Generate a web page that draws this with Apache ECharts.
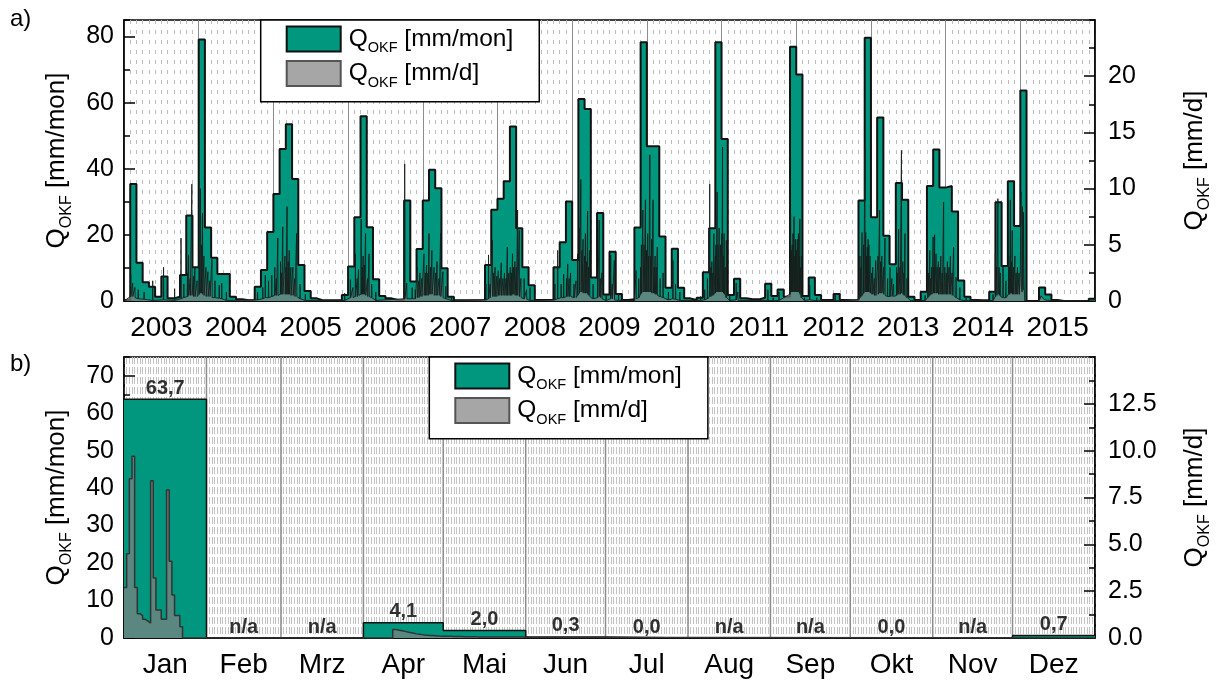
<!DOCTYPE html>
<html><head><meta charset="utf-8">
<script src="https://cdn.jsdelivr.net/npm/echarts@6/dist/echarts.min.js"></script>
<style>html,body{margin:0;padding:0;background:#fff}#c{width:1221px;height:682px}</style>
</head><body><div id="c"></div>
<script>
// ---------- DATA ----------
const years = ['2003','2004','2005','2006','2007','2008','2009','2010','2011','2012','2013','2014','2015'];
// monthly runoff [mm/mon], Jan ... Dec
const monthly2003 = [0.3, 35.4, 11.6, 5.7, 4.3, 1.3, 7.4, 0.8, 1.3, 7.9, 25.9, 10.2];
const monthly2004 = [79.1, 22.2, 13.1, 8.2, 8.2, 1.3, 0.5, 0.2, 0.2, 4.3, 9.4, 20.9];
const monthly2005 = [32.4, 46.0, 53.5, 36.9, 10.9, 3.0, 0.8, 0.2, 0.2, 0.2, 0.2, 1.8];
const monthly2006 = [10.4, 25.3, 55.9, 22.3, 6.6, 1.5, 0.8, 0.3, 0.3, 30.4, 5.9, 15.7];
const monthly2007 = [30.4, 39.7, 34.1, 9.9, 1.3, 0.2, 0.2, 0.2, 0.2, 0.2, 10.9, 27.6];
const monthly2008 = [30.9, 36.2, 52.8, 22.0, 10.2, 4.8, 0.3, 0.3, 0.3, 10.2, 17.8, 30.1];
const monthly2009 = [12.4, 61.1, 58.1, 7.1, 26.6, 2.0, 14.9, 2.1, 0.3, 0.5, 22.2, 78.3];
const monthly2010 = [46.8, 46.8, 19.5, 4.0, 15.8, 4.0, 0.8, 0.3, 1.0, 8.7, 22.0, 78.3];
const monthly2011 = [49.0, 1.8, 6.7, 0.8, 0.5, 0.5, 1.0, 5.2, 1.5, 3.5, 1.3, 76.9];
const monthly2012 = [68.5, 1.5, 7.1, 1.8, 0.3, 0.3, 2.1, 0.3, 0.2, 0.2, 30.4, 79.6];
const monthly2013 = [25.3, 55.5, 19.7, 11.1, 35.7, 30.6, 1.3, 0.3, 2.8, 34.8, 45.8, 34.3];
const monthly2014 = [34.8, 27.1, 6.2, 1.3, 0.3, 0.2, 0.2, 2.8, 29.9, 10.6, 36.2, 22.7];
const monthly2015 = [63.7, 0, 0, 4.1, 2.0, 0.3, 0, 0, 0, 0, 0, 0.7];

// daily runoff peaks: [date, peak mm/d, surrounding base mm/d]
const dailySpikes = [
 ["2003-02-03",2.3,0.4],["2003-02-12",1.6,0.4],["2003-02-22",1.2,0.3],["2003-03-10",1.0,0.2],["2003-04-08",0.8,0.15],["2003-05-20",1.8,0.05],["2003-07-12",3.0,0.1],["2003-09-05",1.1,0.05],["2003-10-06",5.6,0.2],["2003-10-20",1.5,0.3],["2003-11-07",2.5,0.4],["2003-11-12",4.1,0.5],["2003-11-20",2.0,0.5],["2003-11-28",10.4,0.5],["2003-12-06",2.2,0.4],["2003-12-13",3.0,0.4],["2003-12-24",1.8,0.4],
 ["2004-01-03",4.5,0.6],["2004-01-10",10.0,0.7],["2004-01-15",5.0,0.7],["2004-01-20",7.8,0.6],["2004-01-27",4.0,0.5],["2004-02-06",3.0,0.4],["2004-02-15",2.6,0.4],["2004-02-24",1.8,0.4],["2004-03-05",3.7,0.3],["2004-03-20",1.8,0.3],["2004-04-10",1.4,0.25],["2004-04-22",1.6,0.2],["2004-05-15",0.8,0.05],["2004-10-15",0.8,0.1],["2004-11-10",1.2,0.2],["2004-11-22",2.3,0.3],["2004-12-08",1.8,0.3],["2004-12-24",2.3,0.4],
 ["2005-01-08",3.0,0.5],["2005-01-16",2.0,0.5],["2005-01-23",5.6,0.5],["2005-02-05",3.5,0.6],["2005-02-10",2.5,0.6],["2005-02-15",6.6,0.6],["2005-02-25",4.0,0.6],["2005-03-02",3.0,0.6],["2005-03-07",8.4,0.6],["2005-03-13",3.5,0.6],["2005-03-18",4.5,0.6],["2005-03-26",3.0,0.5],["2005-04-05",3.0,0.5],["2005-04-14",2.0,0.4],["2005-04-23",6.0,0.4],["2005-05-10",1.5,0.2],["2005-06-05",0.6,0.05],["2005-12-15",0.7,0.05],
 ["2006-01-13",1.9,0.3],["2006-01-25",1.2,0.3],["2006-02-06",4.2,0.4],["2006-02-14",2.0,0.4],["2006-02-20",2.8,0.5],["2006-03-04",7.3,0.6],["2006-03-10",3.0,0.6],["2006-03-14",4.0,0.6],["2006-03-20",3.2,0.6],["2006-03-26",6.0,0.5],["2006-04-05",2.0,0.4],["2006-04-12",4.2,0.4],["2006-04-25",1.5,0.3],["2006-05-15",0.8,0.05],["2006-10-04",12.2,0.2],["2006-10-14",1.6,0.2],["2006-11-10",1.2,0.2],["2006-11-25",1.0,0.2],["2006-12-04",3.0,0.3],["2006-12-12",1.8,0.3],["2006-12-18",2.5,0.4],["2006-12-27",2.0,0.4],
 ["2007-01-07",4.2,0.5],["2007-01-14",2.5,0.5],["2007-01-20",3.2,0.5],["2007-01-27",2.5,0.5],["2007-02-01",6.0,0.6],["2007-02-08",3.0,0.6],["2007-02-14",4.5,0.6],["2007-02-24",3.0,0.5],["2007-03-04",2.5,0.5],["2007-03-10",3.5,0.5],["2007-03-20",2.0,0.5],["2007-03-28",6.0,0.4],["2007-04-08",2.6,0.3],["2007-04-22",1.3,0.2],["2007-05-20",0.4,0.05],["2007-11-05",1.5,0.1],["2007-11-18",4.1,0.2],["2007-11-26",1.5,0.3],["2007-12-07",5.4,0.4],["2007-12-14",2.5,0.4],["2007-12-20",3.0,0.4],["2007-12-28",2.2,0.4],
 ["2008-01-05",2.7,0.5],["2008-01-12",2.0,0.5],["2008-01-20",3.4,0.5],["2008-01-28",2.0,0.5],["2008-02-05",2.5,0.5],["2008-02-12",2.0,0.5],["2008-02-18",4.8,0.5],["2008-02-25",2.5,0.5],["2008-03-03",3.0,0.5],["2008-03-09",2.5,0.5],["2008-03-14",4.2,0.6],["2008-03-20",3.0,0.6],["2008-03-26",3.5,0.5],["2008-04-02",3.0,0.5],["2008-04-08",8.1,0.5],["2008-04-16",6.3,0.4],["2008-04-24",2.0,0.3],["2008-05-10",2.0,0.2],["2008-05-22",1.0,0.15],["2008-06-08",1.2,0.05],["2008-10-08",1.5,0.1],["2008-10-22",4.5,0.2],["2008-11-08",1.5,0.3],["2008-11-20",2.4,0.3],["2008-12-04",2.0,0.4],["2008-12-10",3.3,0.4],["2008-12-17",2.0,0.4],["2008-12-24",2.5,0.4],
 ["2009-01-10",1.5,0.3],["2009-01-20",1.8,0.3],["2009-01-28",4.2,0.5],["2009-02-05",6.5,0.7],["2009-02-12",10.8,0.8],["2009-02-17",4.5,0.8],["2009-02-22",5.5,0.7],["2009-03-01",4.0,0.7],["2009-03-05",6.0,0.7],["2009-03-11",3.5,0.7],["2009-03-16",8.0,0.6],["2009-03-21",3.0,0.5],["2009-03-26",4.5,0.4],["2009-04-12",1.5,0.2],["2009-05-04",2.5,0.3],["2009-05-12",7.2,0.4],["2009-05-18",2.0,0.3],["2009-05-25",2.5,0.2],["2009-06-15",0.5,0.05],["2009-07-07",4.1,0.2],["2009-07-15",1.5,0.2],["2009-07-25",3.6,0.1],["2009-08-15",0.6,0.05],["2009-11-01",0.3,0.05],["2009-11-09",2.7,0.2],["2009-11-22",2.0,0.3],["2009-12-01",3.0,0.6],["2009-12-05",5.0,0.7],["2009-12-12",8.1,0.8],["2009-12-18",5.0,0.8],["2009-12-25",9.0,0.8],["2009-12-30",4.5,0.8],
 ["2010-01-05",6.0,0.8],["2010-01-10",4.0,0.8],["2010-01-16",13.0,0.8],["2010-01-21",4.0,0.8],["2010-01-25",5.5,0.7],["2010-02-01",9.0,0.7],["2010-02-06",3.0,0.7],["2010-02-10",4.0,0.6],["2010-02-15",3.0,0.6],["2010-02-20",4.8,0.5],["2010-03-05",2.0,0.4],["2010-03-20",2.5,0.3],["2010-04-15",0.8,0.1],["2010-05-07",3.6,0.2],["2010-05-20",1.5,0.15],["2010-06-10",0.8,0.05],["2010-09-20",0.4,0.05],["2010-10-10",1.0,0.1],["2010-10-24",2.0,0.2],["2010-11-04",10.4,0.4],["2010-11-09",3.0,0.4],["2010-11-14",3.5,0.5],["2010-11-19",2.5,0.5],["2010-11-24",6.0,0.6],["2010-12-01",4.0,0.7],["2010-12-04",5.0,0.8],["2010-12-10",9.7,0.8],["2010-12-15",5.0,0.8],["2010-12-20",6.5,0.8],["2010-12-27",5.0,0.8],
 ["2011-01-02",6.0,0.8],["2011-01-06",13.7,0.8],["2011-01-10",4.0,0.7],["2011-01-14",6.0,0.6],["2011-01-19",3.0,0.5],["2011-01-25",5.4,0.3],["2011-02-10",0.6,0.05],["2011-03-12",1.6,0.1],["2011-03-20",0.8,0.05],["2011-08-15",1.0,0.05],["2011-09-10",0.3,0.02],["2011-10-08",0.8,0.05],["2011-12-01",3.0,0.6],["2011-12-04",7.8,0.8],["2011-12-08",4.5,0.8],["2011-12-12",5.0,0.8],["2011-12-16",6.0,0.8],["2011-12-21",7.5,0.8],["2011-12-25",4.0,0.8],["2011-12-28",5.5,0.8],
 ["2012-01-02",4.5,0.8],["2012-01-06",5.5,0.8],["2012-01-12",6.0,0.8],["2012-01-16",4.0,0.7],["2012-01-19",7.3,0.6],["2012-01-23",3.0,0.5],["2012-01-27",4.0,0.3],["2012-02-10",0.3,0.05],["2012-03-06",1.4,0.1],["2012-04-10",0.3,0.02],["2012-07-10",0.6,0.02],["2012-11-01",0.5,0.1],["2012-11-08",4.0,0.3],["2012-11-13",3.0,0.4],["2012-11-18",6.1,0.5],["2012-11-26",5.0,0.7],["2012-12-02",13.6,0.8],["2012-12-06",6.1,0.8],["2012-12-10",4.0,0.8],["2012-12-14",4.8,0.8],["2012-12-18",5.5,0.8],["2012-12-22",5.0,0.8],["2012-12-28",4.0,0.7],
 ["2013-01-05",2.5,0.6],["2013-01-10",3.0,0.6],["2013-01-18",2.0,0.5],["2013-01-25",3.6,0.5],["2013-02-05",4.0,0.6],["2013-02-12",8.1,0.7],["2013-02-17",3.5,0.7],["2013-02-22",4.0,0.7],["2013-03-02",3.0,0.6],["2013-03-09",5.6,0.5],["2013-03-22",2.0,0.4],["2013-04-03",3.0,0.4],["2013-04-12",2.0,0.4],["2013-04-20",1.5,0.4],["2013-05-05",3.0,0.5],["2013-05-10",2.5,0.6],["2013-05-15",6.4,0.6],["2013-05-22",3.0,0.6],["2013-05-29",13.4,0.7],["2013-06-05",3.5,0.6],["2013-06-10",2.5,0.5],["2013-06-15",6.0,0.5],["2013-06-25",2.0,0.3],["2013-07-15",0.1,0.02],["2013-09-22",0.5,0.05],["2013-10-05",2.0,0.3],["2013-10-10",2.5,0.4],["2013-10-15",4.5,0.5],["2013-10-20",2.0,0.6],["2013-10-25",3.0,0.6],["2013-11-01",5.7,0.7],["2013-11-05",3.0,0.7],["2013-11-08",5.9,0.7],["2013-11-15",4.2,0.7],["2013-11-20",3.0,0.7],["2013-11-26",3.5,0.6],["2013-12-03",3.0,0.6],["2013-12-08",4.0,0.6],["2013-12-15",2.5,0.6],["2013-12-22",8.8,0.6],["2013-12-28",3.0,0.6],
 ["2014-01-04",2.5,0.6],["2014-01-10",3.5,0.6],["2014-01-18",3.0,0.6],["2014-01-25",4.0,0.6],["2014-02-02",2.5,0.5],["2014-02-09",4.8,0.5],["2014-02-20",2.1,0.3],["2014-03-10",1.2,0.1],["2014-04-10",0.3,0.02],["2014-08-20",0.6,0.05],["2014-09-01",4.2,0.4],["2014-09-07",3.0,0.5],["2014-09-13",9.1,0.6],["2014-09-19",3.0,0.5],["2014-09-25",2.5,0.4],["2014-10-08",3.2,0.3],["2014-10-22",1.8,0.3],["2014-11-05",4.0,0.6],["2014-11-09",3.0,0.6],["2014-11-13",9.0,0.7],["2014-11-18",3.5,0.7],["2014-11-22",6.3,0.6],["2014-11-28",3.0,0.6],["2014-12-05",4.0,0.6],["2014-12-11",2.5,0.6],["2014-12-18",3.0,0.6],["2014-12-26",2.5,0.6]
];
// daily values 2015 [mm/d]
const dailyJan2015 = [2.7,4.5,8.5,9.7,2.7,1.3,1.2,1.0,0.9,0.8,8.4,3.2,1.5,1.5,1.0,1.0,7.9,4.1,2.3,1.2,1.2,0.6,0,0,0,0,0,0,0,0,0];
const dailyApr2015 = [0,0,0,0,0,0,0,0,0,0,0,0.46,0.43,0.40,0.37,0.34,0.31,0.28,0.25,0.22,0.20,0.18,0.16,0.15,0.14,0.13,0.12,0.11,0.10,0.10];
const dailyMay2015 = [0.09,0.09,0.09,0.08,0.08,0.08,0.08,0.07,0.07,0.07,0.07,0.07,0.06,0.06,0.06,0.06,0.06,0.06,0.06,0.06,0.05,0.05,0.05,0.05,0.05,0.05,0.05,0.05,0.05,0.05,0.04];

// panel b: monthly values 2015
const monthsB = ['Jan','Feb','Mrz','Apr','Mai','Jun','Jul','Aug','Sep','Okt','Nov','Dez'];
const monthlyB = [63.7, null, null, 4.1, 2.0, 0.3, 0.0, null, null, 0.0, null, 0.7];
const monthLabelsB = ['63,7','n/a','n/a','4,1','2,0','0,3','0,0','n/a','n/a','0,0','n/a','0,7'];

// ---------- BUILD ----------
const TEAL = '#00977f';
const FONT = 'Liberation Sans, Arial, sans-serif';
const monthlyA = [].concat(monthly2003,monthly2004,monthly2005,monthly2006,monthly2007,monthly2008,monthly2009,monthly2010,monthly2011,monthly2012,monthly2013,monthly2014,monthly2015);
function toX(s){const p=s.split('-').map(Number);const dim=new Date(Date.UTC(p[0],p[1],0)).getUTCDate();return (p[0]-2003)*12+(p[1]-1)+(p[2]-1)/dim;}
const stepA = monthlyA.map((v,i)=>[i,v]); stepA.push([monthlyA.length, monthlyA[monthlyA.length-1]]);
const DAY = 1/30.4;
const dailyAData = [[0,0]];
dailySpikes.forEach(s=>{const x=toX(s[0]);dailyAData.push([x-DAY,s[2]],[x,s[1]],[x+DAY,s[2]]);});
dailyJan2015.forEach((v,i)=>dailyAData.push([144+i/31,v]));
dailyApr2015.forEach((v,i)=>dailyAData.push([147+i/30,v]));
dailyMay2015.forEach((v,i)=>dailyAData.push([148+i/31,v]));
dailyAData.push([156,0]);

const monthStartB=[];for(let m=0;m<=12;m++)monthStartB.push(Math.round((Date.UTC(2015,m,1)-Date.UTC(2015,0,1))/864e5));
const stepB = monthlyB.map((v,i)=>[monthStartB[i], v==null?0:v]); stepB.push([365, monthlyB[11]]);
const labelB = monthlyB.map((v,i)=>({value:[(monthStartB[i]+monthStartB[i+1])/2, v==null?0:v], txt:monthLabelsB[i]}));
const dailyBData=[];
dailyJan2015.forEach((v,i)=>dailyBData.push([i,v]));
dailyBData.push([31,0]);
dailyApr2015.forEach((v,i)=>dailyBData.push([90+i,v]));
dailyMay2015.forEach((v,i)=>dailyBData.push([120+i,v]));
dailyBData.push([151,0],[365,0]);
const centersB = monthsB.map((m,i)=>(monthStartB[i]+monthStartB[i+1])/2);

const nameRich = {
  q:{fontSize:26,lineHeight:36,verticalAlign:'middle',fontFamily:FONT,color:'#000'},
  s:{fontSize:16,lineHeight:10,verticalAlign:'bottom',fontFamily:FONT,color:'#000'},
  u:{fontSize:26,lineHeight:36,verticalAlign:'middle',fontFamily:FONT,color:'#000'}
};
const legRich = {
  q:{fontSize:24.5,lineHeight:34,verticalAlign:'middle',fontFamily:FONT,color:'#000',padding:[0,0,0,3]},
  s:{fontSize:14.5,lineHeight:8,verticalAlign:'bottom',fontFamily:FONT,color:'#000'},
  u:{fontSize:24.5,lineHeight:34,verticalAlign:'middle',fontFamily:FONT,color:'#000'}
};
const legItems = [
  {name:'mon',icon:'rect',itemStyle:{color:TEAL,borderColor:'#111',borderWidth:2}},
  {name:'d',icon:'rect',itemStyle:{color:'#a6a6a6',borderColor:'#555',borderWidth:2}}
];
function legend(left,top){return {data:legItems,orient:'vertical',left:left,top:top,selectedMode:false,
  padding:[5.4,26,11.3,25],itemGap:4,itemWidth:54,itemHeight:25,borderColor:'#000',borderWidth:1.5,backgroundColor:'#fff',
  formatter:n=>n==='mon'?'{q|Q}{s|OKF}{u| [mm/mon]}':'{q|Q}{s|OKF}{u| [mm/d]}',
  textStyle:{rich:legRich}};}

const lab = {fontFamily:FONT,fontSize:25,color:'#000'};
function yMain(grid,pos,max,interval,name,gap,fmt){return {gridIndex:grid,type:'value',position:pos,offset:0,min:0,max:max,interval:interval,
  axisLine:{show:true,lineStyle:{color:'#000',width:1.5}},axisTick:{show:true,inside:true,length:11,lineStyle:{color:'#000',width:1.5}},
  axisLabel:Object.assign({margin:pos==='left'?10:13,showMaxLabel:false,formatter:fmt||(v=>String(v))},lab),
  splitLine:{show:false},name:name,nameLocation:'middle',nameRotate:90,nameGap:gap,nameTextStyle:{rich:nameRich}};}
function yMinor(grid,pos,max,interval){return {gridIndex:grid,type:'value',position:pos,offset:0,min:0,max:max,interval:interval,
  axisLine:{show:false},axisTick:{show:true,inside:true,length:6,lineStyle:{color:'#000',width:1.5}},axisLabel:{show:false},splitLine:{show:false}};}

const option = {
  animation:false,
  backgroundColor:'#fff',
  textStyle:{fontFamily:FONT},
  graphic:[
    {type:'text',left:10,top:7,style:{text:'a)',font:'24px '+FONT,fill:'#000'}},
    {type:'text',left:10,top:352,style:{text:'b)',font:'24px '+FONT,fill:'#000'}}
  ],
  legend:[legend(260.7,20), legend(429.3,357)],
  grid:[
    {left:124,top:20,width:971,height:281,show:true,borderColor:'#000',borderWidth:1.5,backgroundColor:'transparent'},
    {left:124,top:357,width:971,height:281,show:true,borderColor:'#000',borderWidth:1.5,backgroundColor:'transparent'}
  ],
  xAxis:[
    {gridIndex:0,type:'value',min:0,max:156,interval:12,position:'bottom',
     axisLine:{show:true,onZero:false,lineStyle:{color:'#000',width:1.5}},axisTick:{show:false},axisLabel:{show:false},
     splitLine:{show:true,lineStyle:{color:'#8c8c8c',width:1}},
     minorTick:{show:false,splitNumber:12},minorSplitLine:{show:true,lineStyle:{color:'#bdbdbd',width:1,type:[4,6]}}},
    {gridIndex:0,type:'value',min:0,max:156,interval:6,position:'bottom',
     axisLine:{show:false},axisTick:{show:false},splitLine:{show:false},
     axisLabel:{show:true,margin:13,fontFamily:FONT,fontSize:28,color:'#000',formatter:v=>(v%12===6)?years[(v-6)/12]:''}},
    {gridIndex:1,type:'value',min:0,max:365,interval:1,position:'bottom',
     axisLine:{show:true,onZero:false,lineStyle:{color:'#000',width:1.5}},axisTick:{show:false},axisLabel:{show:false},
     splitLine:{show:true,lineStyle:{color:'#c4c4c4',width:1,type:[7,3]}}},
    {gridIndex:1,type:'value',min:0,max:365,interval:0.5,position:'bottom',
     axisLine:{show:false},axisTick:{show:false},splitLine:{show:false},
     axisLabel:{show:true,margin:13,fontFamily:FONT,fontSize:28,color:'#000',formatter:v=>{const i=centersB.indexOf(v);return i>=0?monthsB[i]:'';}}}
  ],
  yAxis:[
    yMain(0,'left',85,20,'{q|Q}{s|OKF}{u| [mm/mon]}',49.5),
    yMinor(0,'left',85,10),
    yMain(0,'right',25,5,'{q|Q}{s|OKF}{u| [mm/d]}',82),
    yMinor(0,'right',25,2.5),
    yMain(1,'left',75,10,'{q|Q}{s|OKF}{u| [mm/mon]}',49.5),
    yMinor(1,'left',75,5),
    yMain(1,'right',15,2.5,'{q|Q}{s|OKF}{u| [mm/d]}',82,v=>v.toFixed(1)),
    yMinor(1,'right',15,1.25)
  ],
  series:[
    {name:'mon',type:'line',xAxisIndex:0,yAxisIndex:0,step:'end',data:stepA,showSymbol:false,z:2,
     lineStyle:{color:'#111',width:2},itemStyle:{color:TEAL},areaStyle:{color:TEAL,opacity:1}},
    {name:'d',type:'line',xAxisIndex:0,yAxisIndex:2,data:dailyAData,showSymbol:false,z:3,
     lineStyle:{color:'#15201d',width:1,opacity:0.9},itemStyle:{color:'#a6a6a6'},areaStyle:{color:'rgba(128,128,128,0.7)',opacity:1}},
    {type:'custom',xAxisIndex:2,yAxisIndex:4,z:1,silent:true,data:monthStartB.slice(1,12).map(v=>[v]),
     encode:{x:0},renderItem:(params,api)=>{const p0=api.coord([api.value(0),0]);const p1=api.coord([api.value(0),75]);
       return {type:'line',shape:{x1:p0[0],y1:p0[1],x2:p1[0],y2:p1[1]},style:{stroke:'#8c8c8c',lineWidth:1.5}};}},
    {name:'mon',type:'line',xAxisIndex:2,yAxisIndex:4,step:'end',data:stepB,showSymbol:false,z:2,
     lineStyle:{color:'#111',width:1.5},itemStyle:{color:TEAL},areaStyle:{color:TEAL,opacity:1}},
    {name:'d',type:'line',xAxisIndex:2,yAxisIndex:6,step:'end',data:dailyBData,showSymbol:false,z:3,
     lineStyle:{color:'#333',width:1.5},itemStyle:{color:'#a6a6a6'},areaStyle:{color:'rgba(128,128,128,0.7)',opacity:1}},
    {type:'scatter',xAxisIndex:2,yAxisIndex:4,z:5,symbolSize:0,silent:true,data:labelB,
     label:{show:true,position:'top',distance:1,formatter:p=>p.data.txt,fontFamily:FONT,fontWeight:'bold',fontSize:20,color:'#000'}}
  ]
};
const chart = echarts.init(document.getElementById('c'),null,{renderer:'canvas',devicePixelRatio:1});
chart.setOption(option);
</script></body></html>
